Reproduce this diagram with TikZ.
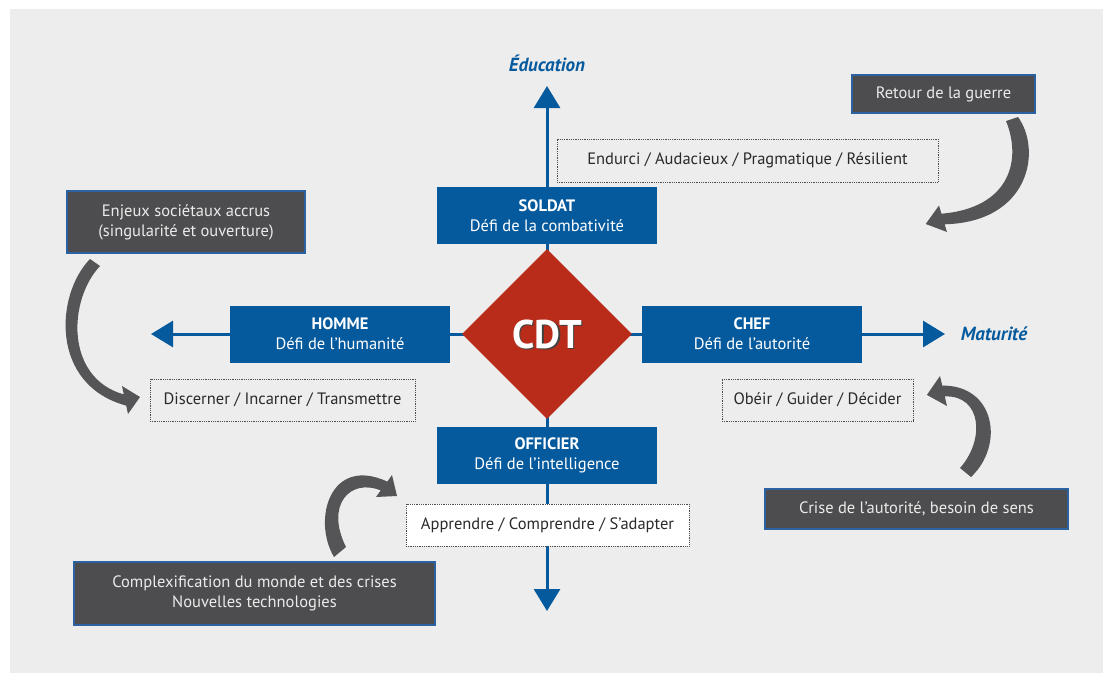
\documentclass[tikz,border=0pt]{standalone}
\usepackage{fontspec}
\setmainfont{PT Sans}
\usetikzlibrary{arrows.meta,shapes.geometric,backgrounds}
\definecolor{bg}{HTML}{EDEDED}
\definecolor{cblue}{HTML}{055A9E}
\definecolor{cred}{HTML}{B92C19}
\definecolor{cdark}{HTML}{4D4D4F}
\definecolor{cgray}{HTML}{555557}
\definecolor{ctext}{HTML}{2A2A2A}
\definecolor{cborder}{HTML}{2A62A2}
\begin{document}
\begin{tikzpicture}[x=1pt,y=-1pt,
 bluebox/.style={fill=cblue, text=white, minimum width=220pt, minimum height=57pt, inner sep=0pt, align=center, font=\fontsize{16.5}{20}\selectfont},
 darkbox/.style={fill=cdark, draw=cborder, line width=1.8pt, text=black!8, inner sep=0pt, align=center, font=\fontsize{16.5}{20}\selectfont},
 dotbox/.style={draw=black!70, dash pattern=on 0.9pt off 0.9pt, line width=0.9pt, text=ctext, inner sep=0pt, font=\fontsize{16.5}{20}\selectfont},
 axis/.style={draw=cblue, line width=3pt},
 tip/.style={-{Triangle[width=26pt,length=22pt]}},
 curvarrow/.style={fill=cgray},
 axlabel/.style={text=cblue, font=\fontsize{19}{22}\selectfont\bfseries\itshape}]
\useasboundingbox (0,0) rectangle (1103,673);

% blue boxes
\node[bluebox] (soldat) at (547,215.5) {\textbf{SOLDAT}\\Défi de la combativité};
\node[bluebox] (homme) at (340,334) {\textbf{HOMME}\\Défi de l’humanité};
\node[bluebox] (chef) at (752,334) {\textbf{CHEF}\\Défi de l’autorité};
\node[bluebox] (officier) at (547,455.5) {\textbf{OFFICIER}\\Défi de l’intelligence};

% diamond
\node[diamond, aspect=1, fill=cred, minimum width=170pt, minimum height=170pt, inner sep=0pt] (cdt) at (547,334) {};
\node[text=black!75, font=\fontsize{40}{44}\selectfont\bfseries] (cdtshadow) at (548.5,335.5) {CDT};
\node[text=white, font=\fontsize{40}{44}\selectfont\bfseries] (cdtlabel) at (547,334) {CDT};

% axis tips and labels
\coordinate (toptip) at (547,86);
\coordinate (bottip) at (547,611);
\coordinate (lefttip) at (151,334);
\coordinate (righttip) at (945,334);
\node[axlabel] (edu) at (547,63) {Éducation};
\node[axlabel] (mat) at (994,334) {Maturité};

% dotted boxes
\node[dotbox, minimum width=381pt, minimum height=43pt] (endurci) at (747.5,160.5) {Endurci / Audacieux / Pragmatique / Résilient};
\node[dotbox, minimum width=265pt, minimum height=42pt] (discerner) at (282.5,400) {Discerner / Incarner / Transmettre};
\node[dotbox, minimum width=191pt, minimum height=42pt] (obeir) at (817.5,400) {Obéir / Guider / Décider};
\node[dotbox, fill=white, minimum width=283pt, minimum height=42pt] (apprendre) at (547.5,525) {Apprendre / Comprendre / S’adapter};

% dark boxes
\node[darkbox, minimum width=183pt, minimum height=38pt] (retour) at (943.5,94) {Retour de la guerre};
\node[darkbox, minimum width=238pt, minimum height=62pt] (enjeux) at (186,222) {Enjeux sociétaux accrus\\(singularité et ouverture)};
\node[darkbox, minimum width=303pt, minimum height=40pt] (crise) at (916.5,509) {Crise de l’autorité, besoin de sens};
\node[darkbox, minimum width=361pt, minimum height=63pt] (complex) at (254.5,593.5) {Complexification du monde et des crises\\Nouvelles technologies};

% curved arrows
\fill[curvarrow] (1006,121) -- (1018,117) .. controls (1042,150) and (1030,222) .. (944.6,224.3) -- (947,232) -- (925.7,224) -- (939,205.5) -- (941.4,213.7) .. controls (1010,208) and (1022,160) .. (1006,121) -- cycle;
\fill[curvarrow] (100,266) -- (90,259) .. controls (55,295) and (50,385) .. (126.2,405.6) -- (128,414) -- (140,397) -- (122,386) -- (123.8,394.4) .. controls (65,378) and (68,300) .. (100,266) -- cycle;
\fill[curvarrow] (960,468) -- (971,477) .. controls (1005,445) and (995,385) .. (942.25,385.6) -- (940,376) -- (926.9,394.9) -- (947,406) -- (944.75,396.4) .. controls (982,395) and (985,440) .. (960,468) -- cycle;
\fill[curvarrow] (334,557) .. controls (312,520) and (330,455) .. (387.3,481.6) -- (392,475) -- (397,496) -- (376,497) -- (380.7,490.4) .. controls (350,478) and (325,505) .. (346,547) -- cycle;

\begin{scope}[on background layer]
\fill[bg] (10,9) rectangle (1103,673);
\draw[axis] (soldat.center) -- (officier.center);
\draw[axis] (homme.center) -- (chef.center);
\draw[axis,tip] (soldat.north) -- (toptip);
\draw[axis,tip] (officier.south) -- (bottip);
\draw[axis,tip] (homme.west) -- (lefttip);
\draw[axis,tip] (chef.east) -- (righttip);
\end{scope}
\end{tikzpicture}
\end{document}
